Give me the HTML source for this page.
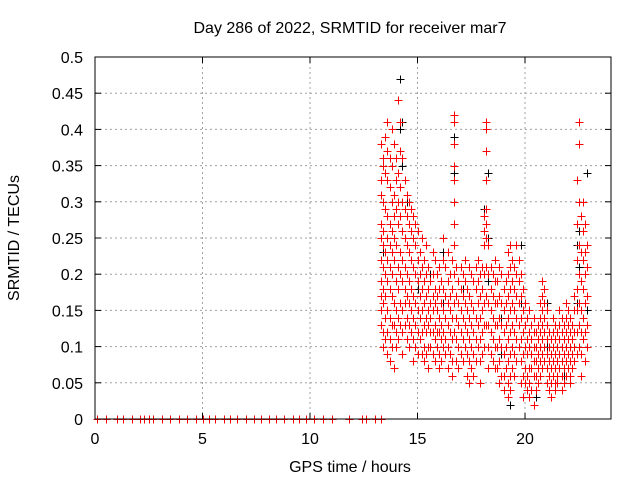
<!DOCTYPE html>
<html><head><meta charset="utf-8">
<style>
html,body{margin:0;padding:0;background:#fff;}
svg{display:block;font-family:"Liberation Sans",sans-serif;}
</style></head>
<body>
<svg id="chart" width="640" height="480">
<text x="350" y="33" font-size="16" text-anchor="middle" fill="#000">Day 286 of 2022, SRMTID for receiver mar7</text>
<text x="350" y="472" font-size="16" text-anchor="middle" fill="#000">GPS time / hours</text>
<text x="19" y="238" font-size="16" text-anchor="middle" fill="#000" transform="rotate(-90 19 238)">SRMTID / TECUs</text>
<g id="grid"></g>
<g id="ticks"></g>
<g id="black"></g>
<g id="red"></g>
<rect x="95" y="57" width="516" height="362" fill="none" stroke="#000" stroke-width="1"/>
</svg>
<script>
const xTicks = [0, 5, 10, 15, 20];
const yTicks = [0, 0.05, 0.1, 0.15, 0.2, 0.25, 0.3, 0.35, 0.4, 0.45, 0.5];
const yTickLabels = ["0","0.05","0.1","0.15","0.2","0.25","0.3","0.35","0.4","0.45","0.5"];
const zeroHours = [0.1,0.5,1.0,1.3,1.7,2.1,2.3,2.5,2.7,3.1,3.5,3.9,4.3,4.7,5.0,5.3,5.6,6.0,6.3,6.6,7.0,7.4,7.7,8.1,8.4,8.8,9.2,9.5,9.8,10.2,10.6,11.0,11.8,12.4,12.6,13.0,13.3];
const redT = [13.3,13.4,13.5,13.6,13.7,13.8,13.9,14.0,14.1,14.2,14.3,14.4,14.5,14.6,14.7,14.8,14.9,15.0,15.1,15.2,15.3,15.4,15.5,15.6,15.7,15.8,15.9,16.0,16.1,16.2,16.3,16.4,16.5,16.6,16.7,16.8,16.9,17.0,17.1,17.2,17.3,17.4,17.5,17.6,17.7,17.8,17.9,18.0,18.1,18.2,18.3,18.4,18.5,18.6,18.7,18.8,18.9,19.0,19.1,19.2,19.3,19.4,19.5,19.6,19.7,19.8,19.9,20.0,20.1,20.2,20.3,20.4,20.5,20.6,20.7,20.8,20.9,21.0,21.1,21.2,21.3,21.4,21.5,21.6,21.7,21.8,21.9,22.0,22.1,22.2,22.3,22.4,22.5,22.6,22.7,22.8,22.9];
const redV = [
[.38,.33,.31,.27,.25,.22,.19,.17,.15,.13],
[.36,.35,.30,.26,.24,.21,.18,.16,.12,.10],
[.39,.34,.29,.23,.20,.17,.14,.11],
[.41,.37,.33,.28,.25,.22,.19,.15,.12,.09],
[.36,.32,.27,.24,.21,.18,.14,.11,.08],
[.40,.35,.30,.26,.23,.20,.17,.13,.10],
[.38,.31,.28,.25,.22,.16,.13,.07],
[.36,.33,.29,.24,.19,.15,.12,.10],
[.44,.34,.30,.27,.21,.18,.14,.11],
[.41,.37,.32,.28,.23,.20,.16,.13],
[.36,.30,.26,.22,.19,.15,.12,.09],
[.33,.29,.25,.21,.18,.16,.13],
[.31,.28,.24,.20,.17,.14,.11],
[.30,.27,.23,.19,.16,.13,.10],
[.29,.26,.22,.18,.15,.12],
[.28,.25,.21,.17,.14,.11,.08],
[.27,.24,.20,.16,.13,.10],
[.26,.22,.19,.15,.12,.09],
[.23,.20,.17,.14,.11],
[.25,.21,.18,.15,.12,.09],
[.22,.19,.16,.13,.10,.08],
[.24,.20,.17,.14,.12,.09],
[.21,.18,.15,.13,.10,.07],
[.19,.16,.14,.12,.10],
[.23,.20,.17,.15,.12,.09],
[.22,.18,.16,.13,.11,.08],
[.20,.17,.15,.12,.10],
[.21,.18,.14,.12,.09,.07],
[.19,.16,.13,.11,.08],
[.25,.22,.18,.15,.12,.10],
[.21,.17,.14,.11,.09],
[.23,.19,.16,.13,.10,.07],
[.20,.17,.15,.12,.09],
[.22,.18,.14,.11,.08,.06],
[.42,.41,.38,.35,.33,.30,.27,.24,.20,.16,.12],
[.21,.17,.14,.11,.08],
[.19,.16,.13,.10,.07],
[.21,.18,.15,.12,.09],
[.20,.17,.14,.11,.08],
[.22,.19,.16,.13,.10],
[.18,.15,.12,.09,.06],
[.21,.17,.14,.11,.08,.05],
[.20,.16,.13,.10,.07],
[.19,.15,.12,.09,.06],
[.21,.18,.14,.11,.08],
[.22,.19,.16,.13,.10],
[.20,.17,.14,.11,.08,.05],
[.21,.18,.15,.12,.09],
[.28,.26,.24,.20,.16,.13,.10],
[.41,.40,.37,.33,.29,.27,.25,.21,.17,.13],
[.24,.20,.16,.13,.10,.07],
[.21,.18,.15,.12,.09],
[.20,.17,.14,.11,.08],
[.22,.19,.16,.13,.10,.07],
[.19,.16,.13,.10,.07],
[.21,.17,.14,.11,.08,.05],
[.20,.16,.13,.10,.06],
[.18,.15,.12,.09,.06,.04],
[.19,.16,.13,.10,.07],
[.23,.20,.17,.14,.11,.08,.05,.03],
[.24,.21,.18,.15,.12,.09,.06,.04],
[.22,.19,.16,.13,.10,.07],
[.21,.18,.15,.12,.09,.06],
[.24,.20,.17,.14,.11,.08],
[.22,.19,.16,.13,.10],
[.20,.17,.14,.11,.08,.05],
[.18,.15,.12,.09,.06,.03],
[.16,.13,.10,.07,.05],
[.14,.11,.09,.06,.04],
[.15,.12,.10,.07,.05,.03],
[.13,.11,.09,.07,.04],
[.14,.12,.10,.08,.06,.02],
[.12,.10,.08,.06,.04],
[.13,.11,.09,.07,.05],
[.16,.14,.12,.10,.08,.06],
[.19,.17,.15,.13,.11,.09,.07],
[.18,.16,.14,.12,.10,.08],
[.15,.13,.11,.09,.07,.05],
[.12,.10,.08,.06,.04],
[.11,.09,.07,.05,.03],
[.14,.12,.10,.08,.06],
[.13,.11,.09,.07,.05,.04],
[.12,.10,.08,.06,.05],
[.15,.13,.11,.09,.07],
[.14,.12,.10,.08,.06,.04],
[.13,.11,.09,.07,.05],
[.16,.14,.12,.10,.08,.06],
[.15,.13,.11,.09,.07],
[.14,.12,.10,.08,.06,.05],
[.13,.11,.09,.07],
[.17,.15,.12,.10,.08],
[.33,.27,.22,.18,.15,.12,.09],
[.41,.38,.30,.24,.20,.16,.13,.10],
[.28,.23,.19,.15,.12,.09,.06],
[.30,.26,.22,.18,.14,.11],
[.27,.23,.20,.16,.12,.08],
[.24,.21,.17,.13,.10]
];
const blackT = [13.4,14.2,14.3,14.5,15.0,15.6,16.2,16.7,17.1,18.1,18.3,18.9,19.3,19.8,20.5,21.0,21.8,22.4,22.5,22.9];
const blackV = [
[.36,.30,.23],[.47,.40,.28],[.41,.35],[.30,.20],[.12,.18,.26],[.14,.20],[.23,.16],[.39,.34],[.11,.18],
[.29,.24],[.34,.25,.19],[.14,.09],[.02,.06],[.16,.24],[.03,.12],[.16,.10],[.06,.13],[.24,.16],[.26,.21],[.34,.24,.15]
];
const X0=95, X1=611, Y0=419, Y1=57;
function xs(h){return X0+(h/24)*(X1-X0);}
function ys(v){return Y0-(v/0.5)*(Y0-Y1);}
const NS="http://www.w3.org/2000/svg";
function mk(tag, attrs, parent){const e=document.createElementNS(NS,tag);for(const k in attrs)e.setAttribute(k,attrs[k]);parent.appendChild(e);return e;}
const grid=document.getElementById('grid'), ticks=document.getElementById('ticks');
xTicks.forEach(t=>{
  const x=xs(t);
  if(t>0){const g=mk('line',{x1:x,x2:x,y1:Y1,y2:Y0,stroke:'#a0a0a0','stroke-dasharray':'2,3','stroke-width':1},grid);
  
  }
  mk('line',{x1:x,x2:x,y1:Y0,y2:Y0-6,stroke:'#000'},ticks);
  mk('line',{x1:x,x2:x,y1:Y1,y2:Y1+6,stroke:'#000'},ticks);
  const l=mk('text',{x:x,y:Y0+25,'font-size':16,'text-anchor':'middle'},ticks);
  l.textContent=t;
  
  
});
yTicks.forEach((t,i)=>{
  const y=ys(t);
  if(t>0&&t<0.5){const g=mk('line',{x1:X0,x2:X1,y1:y,y2:y,stroke:'#a0a0a0','stroke-dasharray':'2,3','stroke-width':1},grid);
  
  }
  mk('line',{x1:X0,x2:X0+6,y1:y,y2:y,stroke:'#000'},ticks);
  mk('line',{x1:X1,x2:X1-6,y1:y,y2:y,stroke:'#000'},ticks);
  const l=mk('text',{x:X0-12,y:y+6,'font-size':16,'text-anchor':'end'},ticks);
  l.textContent=yTickLabels[i];
  
  
});
function plus(g,h,v,color){
  const x=Math.round(xs(h))+0.5, y=Math.round(ys(v))+0.5;
  const p=mk('path',{d:`M${x-4} ${y}H${x+4}M${x} ${y-4}V${y+4}`,stroke:color,'stroke-width':1,fill:'none'},g);
  
  
}
const blackG=document.getElementById('black'), redG=document.getElementById('red');
zeroHours.forEach(h=>plus(blackG,h,0,'#000'));
blackT.forEach((h,i)=>blackV[i].forEach(v=>plus(blackG,h,v,'#000')));
zeroHours.forEach(h=>plus(redG,h,0,'#ff0000'));
redT.forEach((h,i)=>redV[i].forEach(v=>plus(redG,h,v,'#ff0000')));
</script>
</body></html>
